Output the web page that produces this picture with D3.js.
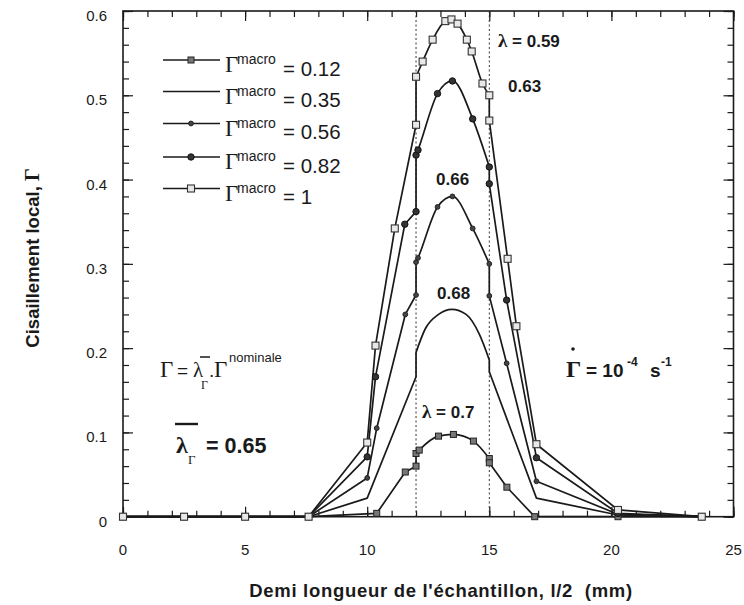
<!DOCTYPE html>
<html><head><meta charset="utf-8">
<script src="https://cdn.jsdelivr.net/npm/d3@7"></script>
<style>
body{margin:0;background:#fff}
text{font-family:"Liberation Sans",Arial,Helvetica,sans-serif;fill:#1a1a1a;white-space:pre}
.serif{font-family:"Liberation Serif","Times New Roman",serif}
</style>
</head><body>
<svg id="chart" width="744" height="605"></svg>
<script>
// ---------- data ----------
const xMajorTicks = [0, 5, 10, 15, 20, 25];
const yMajorTicks = [0, 0.1, 0.2, 0.3, 0.4, 0.5, 0.6];
const xTickLabels = ["0", "5", "10", "15", "20", "25"];
const yTickLabels = ["0", "0.1", "0.2", "0.3", "0.4", "0.5", "0.6"];
const legendValues = ["= 0.12", "= 0.35", "= 0.56", "= 0.82", "= 1"];
const markerTypes = ["squareFilled", "none", "circleSmall", "circle", "squareOpen"];
const refLines = [12, 15];

// Γmacro = 0.12
const serie012 = [[0,0],[2.5,0],[5,0],[7.6,0],[10.39,0.004],[11.56,0.053],[12,0.06],[12,0.075],[12.13,0.079],[12.92,0.0956],[13.53,0.0976],[14.35,0.0897],[15,0.069],[15,0.064],[15.72,0.035],[16.86,0],[20.27,0],[23.7,0]];
// Γmacro = 0.35
const serie035 = [[0,0],[2.5,0],[5,0],[7.6,0],[10.0,0.022],[12,0.166],[12,0.195],[12.38,0.223],[12.92,0.240],[13.47,0.246],[14.05,0.240],[14.6,0.216],[15,0.186],[15,0.172],[16.93,0.022],[20.27,0.002],[23.7,0]];
// Γmacro = 0.56
const serie056 = [[0,0],[2.5,0],[5,0],[7.6,0],[10.0,0.046],[10.39,0.105],[11.56,0.24],[12,0.263],[12,0.302],[12.08,0.307],[12.88,0.3675],[13.49,0.380],[14.32,0.342],[15,0.300],[15,0.262],[15.71,0.182],[16.93,0.042],[20.27,0.003],[23.7,0]];
// Γmacro = 0.82
const serie082 = [[0,0],[2.5,0],[5,0],[7.6,0],[10.0,0.071],[10.34,0.166],[11.54,0.347],[12,0.362],[12,0.429],[12.08,0.435],[12.88,0.502],[13.49,0.517],[14.32,0.472],[15,0.415],[15,0.395],[15.71,0.257],[16.93,0.07],[20.27,0.004],[23.7,0]];
// Γmacro = 1
const serie100 = [[0,0],[2.5,0],[5,0],[7.6,0],[10.0,0.088],[10.34,0.203],[11.13,0.342],[12,0.465],[12,0.522],[12.27,0.540],[12.68,0.566],[13.2,0.588],[13.45,0.590],[13.7,0.585],[14.08,0.566],[14.28,0.552],[14.72,0.514],[15,0.50],[15,0.47],[15.75,0.306],[16.11,0.226],[16.93,0.086],[20.27,0.008],[23.7,0]];

const allSeries = [serie012, serie035, serie056, serie082, serie100];

// ---------- layout ----------
const svg = d3.select("#chart");
const X0 = 123, X1 = 733.5, Y0 = 516.7, Y1 = 11;
const x = d3.scaleLinear().domain([0, 25]).range([X0, X1]);
const y = d3.scaleLinear().domain([0, 0.6]).range([Y0, Y1]);
const ink = "#1a1a1a";

// frame
svg.append("rect").attr("x", X0).attr("y", Y1).attr("width", X1 - X0).attr("height", Y0 - Y1)
  .attr("fill", "none").attr("stroke", ink).attr("stroke-width", 1.6);

// ticks (inward, mirrored)
function styleAxis(g) {
  g.select(".domain").remove();
  g.selectAll("line").attr("stroke", ink).attr("stroke-width", 1.2);
}
const xMinor = d3.range(0, 26, 1), yMinor = d3.range(0, 0.601, 0.02);
svg.append("g").attr("transform", `translate(0,${Y0})`)
  .call(d3.axisBottom(x).tickValues(xMinor).tickSize(-6).tickFormat("")).call(styleAxis);
svg.append("g").attr("transform", `translate(0,${Y1})`)
  .call(d3.axisTop(x).tickValues(xMinor).tickSize(-6).tickFormat("")).call(styleAxis);
svg.append("g").attr("transform", `translate(0,${Y0})`)
  .call(d3.axisBottom(x).tickValues(xMajorTicks).tickSize(-10).tickFormat("")).call(styleAxis);
svg.append("g").attr("transform", `translate(0,${Y1})`)
  .call(d3.axisTop(x).tickValues(xMajorTicks).tickSize(-10).tickFormat("")).call(styleAxis);
svg.append("g").attr("transform", `translate(${X0},0)`)
  .call(d3.axisLeft(y).tickValues(yMinor).tickSize(-6).tickFormat("")).call(styleAxis);
svg.append("g").attr("transform", `translate(${X1},0)`)
  .call(d3.axisRight(y).tickValues(yMinor).tickSize(-6).tickFormat("")).call(styleAxis);
svg.append("g").attr("transform", `translate(${X0},0)`)
  .call(d3.axisLeft(y).tickValues(yMajorTicks).tickSize(-10).tickFormat("")).call(styleAxis);
svg.append("g").attr("transform", `translate(${X1},0)`)
  .call(d3.axisRight(y).tickValues(yMajorTicks).tickSize(-10).tickFormat("")).call(styleAxis);

// tick labels
svg.append("g").selectAll("text").data(xMajorTicks).join("text")
  .attr("x", d => x(d)).attr("y", 555).attr("text-anchor", "middle")
  .attr("font-size", 15).text((d, i) => xTickLabels[i]);
svg.append("g").selectAll("text").data(yMajorTicks).join("text")
  .attr("x", 107).attr("y", d => y(d) + 10).attr("text-anchor", "end")
  .attr("font-size", 15).text((d, i) => yTickLabels[i]);

// axis titles
svg.append("text").attr("x", 441).attr("y", 597).attr("text-anchor", "middle")
  .attr("font-size", 18.5).attr("font-weight", "bold").attr("letter-spacing", 0.7)
  .text("Demi longueur de l'échantillon, l/2  (mm)");
const yt = svg.append("text").attr("transform", "translate(39,258) rotate(-90)")
  .attr("text-anchor", "middle").attr("font-size", 18.5).attr("font-weight", "bold");
yt.append("tspan").text("Cisaillement local, ");
yt.append("tspan").attr("class", "serif").attr("font-size", 20).text("Γ");

// dotted reference lines
svg.append("g").selectAll("line").data(refLines).join("line")
  .attr("x1", d => x(d)).attr("x2", d => x(d)).attr("y1", Y1).attr("y2", Y0)
  .attr("stroke", "#333").attr("stroke-width", 1).attr("stroke-dasharray", "2,2.5");

// curves: linear outside the central zone, smooth between the jumps at 12 and 15
const lineLin = d3.line().x(d => x(d[0])).y(d => y(d[1]));
const lineSmooth = d3.line().x(d => x(d[0])).y(d => y(d[1])).curve(d3.curveMonotoneX);
function pathFor(pts) {
  const a = pts.findIndex((p, i) => i > 0 && p[0] === 12 && pts[i - 1][0] === 12);
  const b = pts.findIndex((p, i) => i < pts.length - 1 && p[0] === 15 && pts[i + 1][0] === 15);
  return lineLin(pts.slice(0, a + 1)) + lineSmooth(pts.slice(a, b + 1)) + lineLin(pts.slice(b));
}
const gCurves = svg.append("g");
allSeries.forEach(s => {
  gCurves.append("path").attr("d", pathFor(s)).attr("fill", "none")
    .attr("stroke", ink).attr("stroke-width", 1.7)
    .attr("stroke-linejoin", "round").attr("stroke-linecap", "round");
});

function marker(g, type, cx, cy) {
  if (type === "squareFilled") {
    g.append("rect").attr("x", cx - 3).attr("y", cy - 3).attr("width", 6).attr("height", 6)
      .attr("fill", "#777").attr("stroke", "#222").attr("stroke-width", 1);
  } else if (type === "squareOpen") {
    g.append("rect").attr("x", cx - 3.5).attr("y", cy - 3.5).attr("width", 7).attr("height", 7)
      .attr("fill", "#e8e8e8").attr("stroke", "#333").attr("stroke-width", 1.1);
  } else if (type === "circleSmall") {
    g.append("circle").attr("cx", cx).attr("cy", cy).attr("r", 2.4).attr("fill", "#444").attr("stroke", "#222");
  } else if (type === "circle") {
    g.append("circle").attr("cx", cx).attr("cy", cy).attr("r", 3.2).attr("fill", "#333").attr("stroke", "#111");
  }
}
const gMarks = svg.append("g");
allSeries.forEach((s, k) => {
  if (markerTypes[k] === "none") return;
  s.forEach(p => marker(gMarks, markerTypes[k], x(p[0]), y(p[1])));
});

// legend
const legY = [60, 91.5, 123.5, 157, 188.5];
const gLeg = svg.append("g");
legendValues.forEach((v, i) => {
  const ly = legY[i];
  gLeg.append("line").attr("x1", 163).attr("x2", 220).attr("y1", ly).attr("y2", ly)
    .attr("stroke", ink).attr("stroke-width", 1.7);
  marker(gLeg, markerTypes[i], 191, ly);
  gLeg.append("text").attr("class", "serif").attr("x", 225).attr("y", ly + 12).attr("font-size", 23).text("Γ");
  gLeg.append("text").attr("x", 237).attr("y", ly + 4).attr("font-size", 14).text("macro");
  gLeg.append("text").attr("x", 283).attr("y", ly + 15.5).attr("font-size", 20.5).text(v);
});

// curve annotations
const ann = svg.append("g").attr("font-weight", "bold").attr("font-size", 17);
const lam1 = ann.append("text").attr("x", 498).attr("y", 47);
lam1.append("tspan").attr("class", "serif").attr("font-size", 19).text("λ");
lam1.append("tspan").text(" = 0.59");
ann.append("text").attr("x", 508).attr("y", 92).text("0.63");
ann.append("text").attr("x", 436).attr("y", 185).text("0.66");
ann.append("text").attr("x", 437).attr("y", 299).text("0.68");
const lam2 = ann.append("text").attr("x", 422).attr("y", 418);
lam2.append("tspan").attr("class", "serif").attr("font-size", 19).text("λ");
lam2.append("tspan").text(" = 0.7");

// Γ = λΓ . Γnominale
const g1 = svg.append("g");
g1.append("text").attr("class", "serif").attr("x", 160).attr("y", 377).attr("font-size", 23).text("Γ");
g1.append("text").attr("x", 177).attr("y", 377).attr("font-size", 19).text("=");
g1.append("text").attr("class", "serif").attr("x", 193).attr("y", 377).attr("font-size", 21).text("λ");
g1.append("text").attr("class", "serif").attr("x", 201).attr("y", 389).attr("font-size", 12).text("Γ");
g1.append("line").attr("x1", 200).attr("x2", 210).attr("y1", 357).attr("y2", 357).attr("stroke", ink).attr("stroke-width", 1.5);
g1.append("text").attr("x", 209).attr("y", 377).attr("font-size", 19).text(".");
g1.append("text").attr("class", "serif").attr("x", 214).attr("y", 377).attr("font-size", 23).text("Γ");
g1.append("text").attr("x", 229).attr("y", 362).attr("font-size", 13).text("nominale");

// λ̄Γ = 0.65
const g2 = svg.append("g");
g2.append("line").attr("x1", 175).attr("x2", 198).attr("y1", 424).attr("y2", 424).attr("stroke", ink).attr("stroke-width", 2.4);
g2.append("text").attr("class", "serif").attr("x", 176).attr("y", 453).attr("font-size", 24).attr("font-weight", "bold").text("λ");
g2.append("text").attr("class", "serif").attr("x", 188).attr("y", 464).attr("font-size", 13).text("Γ");
g2.append("text").attr("x", 206).attr("y", 453).attr("font-size", 21.5).attr("font-weight", "bold").text("= 0.65");

// Γ̇ = 10^-4 s^-1
const g3 = svg.append("g").attr("font-weight", "bold");
g3.append("text").attr("class", "serif").attr("x", 566).attr("y", 377).attr("font-size", 24).text("Γ");
g3.append("circle").attr("cx", 573).attr("cy", 349).attr("r", 1.8).attr("fill", ink);
g3.append("text").attr("x", 586).attr("y", 377).attr("font-size", 19).text("= 10");
g3.append("text").attr("x", 627).attr("y", 366).attr("font-size", 12).text("-4");
g3.append("text").attr("x", 650).attr("y", 377).attr("font-size", 19).text("s");
g3.append("text").attr("x", 661).attr("y", 366).attr("font-size", 12).text("-1");
</script>
</body></html>
